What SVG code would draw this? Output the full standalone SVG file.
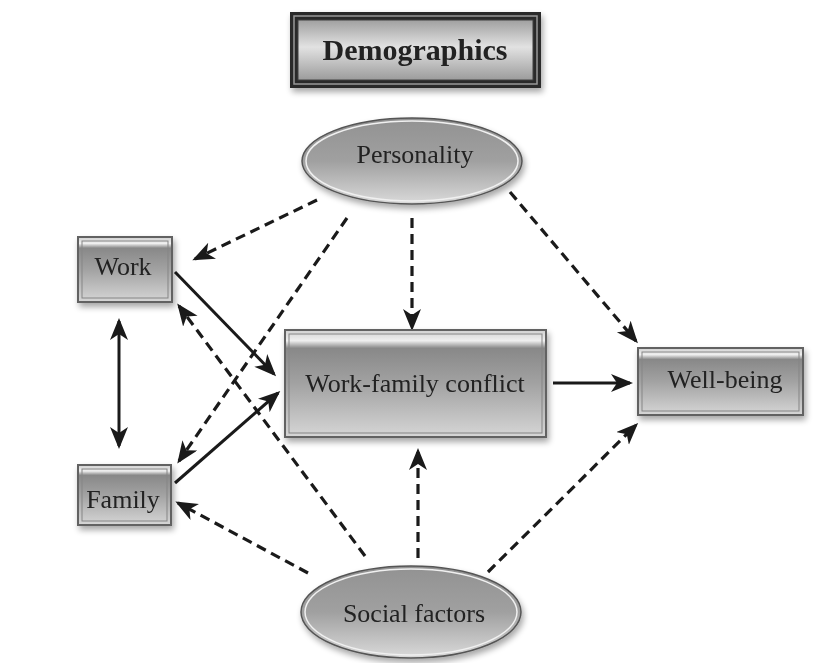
<svg xmlns="http://www.w3.org/2000/svg" width="825" height="663" viewBox="0 0 825 663">
<defs>
<style>
.lbl{font-family:"Liberation Serif","DejaVu Serif",serif;font-size:26px;fill:#222222;text-anchor:middle}
.title{font-family:"Liberation Serif","DejaVu Serif",serif;font-size:30px;font-weight:bold;fill:#222222;text-anchor:middle}
.box{fill:url(#boxg);stroke:#626262;stroke-width:2}
.boxin{fill:none;stroke:#858585;stroke-width:1}
.ell{fill:url(#ellg);stroke:#555555;stroke-width:1.5}
.ellin{fill:none;stroke:#f0f0f0;stroke-width:1.5}
.solid{fill:none;stroke:#1a1a1a;stroke-width:3}
.dash{fill:none;stroke:#1a1a1a;stroke-width:3.2;stroke-dasharray:10 6}
</style>
<linearGradient id="boxg" x1="0" y1="0" x2="0" y2="1">
<stop offset="0" stop-color="#d0d0d0"/>
<stop offset="0.1" stop-color="#efefef"/>
<stop offset="0.17" stop-color="#888888"/>
<stop offset="0.5" stop-color="#a2a2a2"/>
<stop offset="1" stop-color="#d6d6d6"/>
</linearGradient>
<linearGradient id="demg" x1="0" y1="0" x2="0" y2="1">
<stop offset="0" stop-color="#a0a0a0"/>
<stop offset="0.45" stop-color="#e2e2e2"/>
<stop offset="1" stop-color="#9c9c9c"/>
</linearGradient>
<linearGradient id="ellg" x1="0" y1="0" x2="0" y2="1">
<stop offset="0" stop-color="#929292"/>
<stop offset="0.5" stop-color="#a0a0a0"/>
<stop offset="1" stop-color="#dadada"/>
</linearGradient>
<filter id="sh" x="-20%" y="-20%" width="140%" height="150%">
<feGaussianBlur in="SourceAlpha" stdDeviation="3"/>
<feOffset dx="2" dy="4" result="b"/>
<feComponentTransfer><feFuncA type="linear" slope="0.35"/></feComponentTransfer>
<feMerge><feMergeNode/><feMergeNode in="SourceGraphic"/></feMerge>
</filter>
<marker id="ah" markerUnits="userSpaceOnUse" markerWidth="24" markerHeight="20" viewBox="0 0 24 20" refX="19" refY="9" orient="auto">
<path d="M0,0 L22,9 L0,18 L6,9 z" fill="#1a1a1a"/>
</marker>
<marker id="ahs" markerUnits="userSpaceOnUse" markerWidth="24" markerHeight="20" viewBox="0 0 24 20" refX="19" refY="9" orient="auto-start-reverse">
<path d="M0,0 L22,9 L0,18 L6,9 z" fill="#1a1a1a"/>
</marker>
</defs>
<rect width="825" height="663" fill="#ffffff"/>

<g id="connectors">
<line class="dash" x1="317" y1="200" x2="195" y2="259" marker-end="url(#ah)"/>
<line class="dash" x1="347" y1="218" x2="179" y2="461" marker-end="url(#ah)"/>
<line class="dash" x1="412" y1="218" x2="412" y2="328" marker-end="url(#ah)"/>
<line class="dash" x1="510" y1="192" x2="636" y2="341" marker-end="url(#ah)"/>
<line class="solid" x1="175" y1="272" x2="274" y2="374" marker-end="url(#ah)"/>
<line class="solid" x1="175" y1="483" x2="278" y2="393" marker-end="url(#ah)"/>
<line class="solid" x1="119" y1="321" x2="119" y2="446" marker-start="url(#ahs)" marker-end="url(#ah)"/>
<line class="dash" x1="365" y1="556" x2="179" y2="306" marker-end="url(#ah)"/>
<line class="dash" x1="308" y1="573" x2="178" y2="503" marker-end="url(#ah)"/>
<line class="dash" x1="418" y1="558" x2="418" y2="451" marker-end="url(#ah)"/>
<line class="dash" x1="488" y1="572" x2="636" y2="425" marker-end="url(#ah)"/>
<line class="solid" x1="553" y1="383" x2="630" y2="383" marker-end="url(#ah)"/>
</g>

<g id="demographics" filter="url(#sh)">
<rect x="290" y="12" width="251" height="76" fill="#2a2a2a"/>
<rect x="294" y="16" width="243" height="68" fill="none" stroke="#999999" stroke-width="1.5"/>
<rect x="298" y="20" width="235" height="60" fill="url(#demg)" stroke="#404040" stroke-width="1"/>
<text class="title" x="415" y="60">Demographics</text>
</g>

<g id="personality" filter="url(#sh)">
<ellipse class="ell" cx="412" cy="161" rx="110" ry="43"/>
<ellipse class="ellin" cx="412" cy="161" rx="106" ry="40"/>
<text class="lbl" x="415" y="163">Personality</text>
</g>

<g id="work" filter="url(#sh)">
<rect class="box" x="78" y="237" width="94" height="65"/>
<rect class="boxin" x="82" y="241" width="86" height="57"/>
<text class="lbl" x="123" y="275">Work</text>
</g>

<g id="family" filter="url(#sh)">
<rect class="box" x="78" y="465" width="93" height="60"/>
<rect class="boxin" x="82" y="469" width="85" height="52"/>
<text class="lbl" x="123" y="508">Family</text>
</g>

<g id="wfc" filter="url(#sh)">
<rect class="box" x="285" y="330" width="261" height="107"/>
<rect class="boxin" x="289" y="334" width="253" height="99"/>
<text class="lbl" x="415" y="392">Work-family conflict</text>
</g>

<g id="wellbeing" filter="url(#sh)">
<rect class="box" x="638" y="348" width="165" height="67"/>
<rect class="boxin" x="642" y="352" width="157" height="59"/>
<text class="lbl" x="725" y="388">Well-being</text>
</g>

<g id="social" filter="url(#sh)">
<ellipse class="ell" cx="411" cy="612" rx="110" ry="46"/>
<ellipse class="ellin" cx="411" cy="612" rx="106" ry="43"/>
<text class="lbl" x="414" y="622">Social factors</text>
</g>
</svg>
